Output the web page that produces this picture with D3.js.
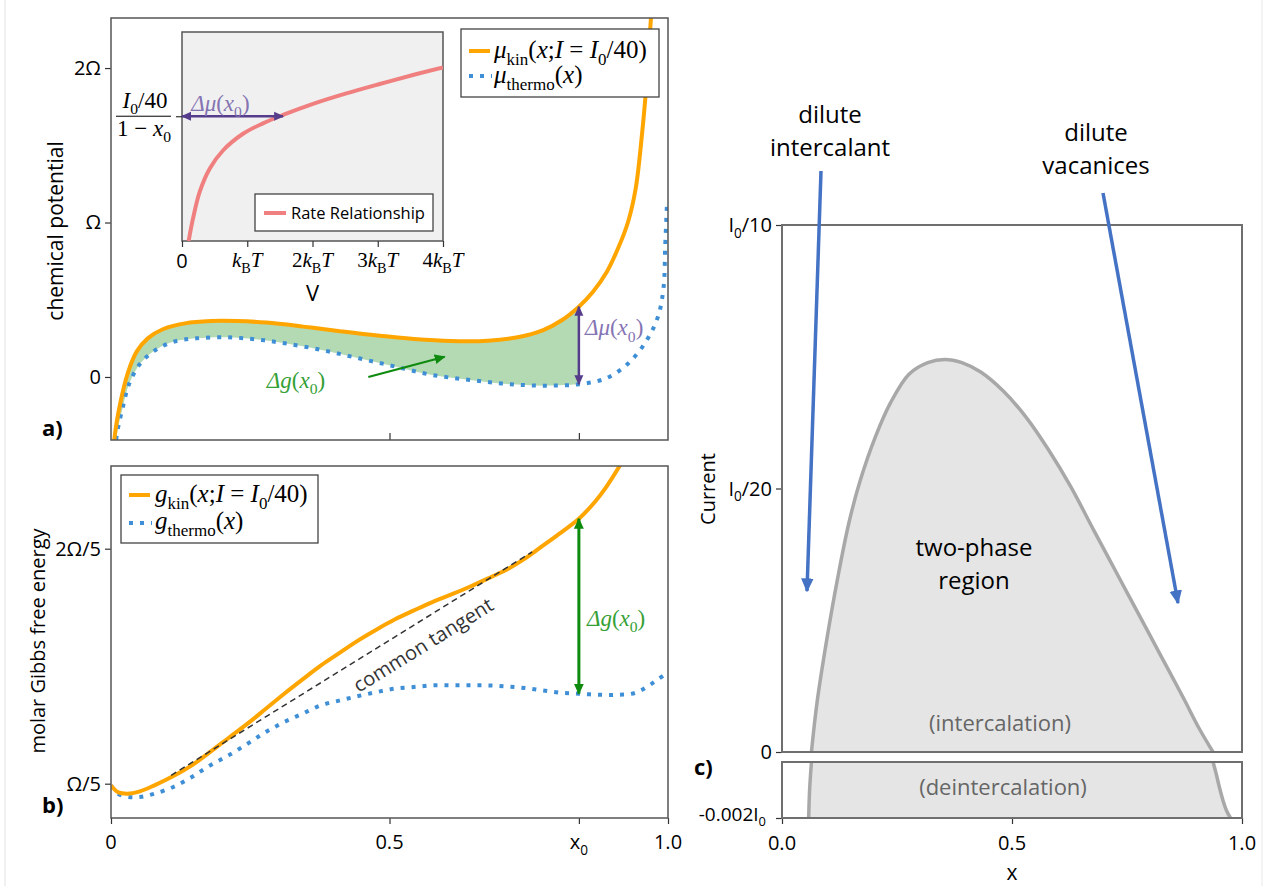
<!DOCTYPE html>
<html>
<head>
<meta charset="utf-8">
<script src="https://cdn.jsdelivr.net/npm/d3@7"></script>
<style>
  body { margin: 0; background: #fff; }
  text { font-family: "Open Sans", "Noto Sans", sans-serif; }
</style>
</head>
<body>
<svg id="fig" width="1265" height="886"></svg>
<script>
// ---- values ----
// panel a: chemical potential (in units of Omega)
var muKinX = [0.003, 0.0066, 0.0166, 0.030, 0.046, 0.066, 0.093, 0.133, 0.179, 0.226, 0.279, 0.345, 0.411, 0.478, 0.544, 0.610, 0.677, 0.730, 0.776, 0.810, 0.840, 0.865, 0.890, 0.910, 0.928, 0.942, 0.953, 0.961, 0.967, 0.972];
var muKin = [-0.62, -0.386, -0.17, 0.024, 0.164, 0.25, 0.309, 0.347, 0.362, 0.362, 0.352, 0.326, 0.296, 0.268, 0.246, 0.233, 0.235, 0.257, 0.304, 0.369, 0.455, 0.55, 0.68, 0.83, 1.0, 1.22, 1.56, 1.88, 2.20, 2.45];
var muThermoX = [0.006, 0.010, 0.020, 0.033, 0.053, 0.080, 0.113, 0.153, 0.206, 0.259, 0.312, 0.378, 0.445, 0.511, 0.577, 0.644, 0.710, 0.776, 0.840, 0.889, 0.929, 0.962, 0.982, 0.992, 0.995, 0.998];
var muThermo = [-0.62, -0.386, -0.214, -0.041, 0.089, 0.175, 0.229, 0.25, 0.257, 0.244, 0.218, 0.175, 0.121, 0.067, 0.013, -0.019, -0.045, -0.056, -0.047, -0.008, 0.089, 0.239, 0.39, 0.578, 0.85, 1.11];

// panel b: molar Gibbs free energy (in units of Omega)
var gKinX = [0, 0.012, 0.029, 0.052, 0.078, 0.112, 0.145, 0.178, 0.211, 0.245, 0.278, 0.311, 0.344, 0.377, 0.411, 0.444, 0.477, 0.510, 0.544, 0.577, 0.610, 0.643, 0.676, 0.710, 0.743, 0.776, 0.809, 0.840, 0.869, 0.889, 0.912, 0.930];
var gKin = [0.1986, 0.1929, 0.1915, 0.1935, 0.1986, 0.2065, 0.2156, 0.227, 0.2389, 0.2511, 0.2638, 0.2766, 0.2888, 0.3007, 0.3115, 0.322, 0.3313, 0.3399, 0.3475, 0.3546, 0.3609, 0.3674, 0.3745, 0.3821, 0.3915, 0.4028, 0.4142, 0.4255, 0.440, 0.4525, 0.4695, 0.485];
var gThermoX = [0, 0.012, 0.032, 0.052, 0.078, 0.112, 0.145, 0.178, 0.211, 0.245, 0.278, 0.311, 0.344, 0.377, 0.411, 0.444, 0.477, 0.510, 0.544, 0.577, 0.610, 0.643, 0.676, 0.710, 0.743, 0.776, 0.809, 0.840, 0.876, 0.909, 0.942, 0.975, 1.0];
var gThermo = [0.1986, 0.1915, 0.1887, 0.1887, 0.1915, 0.1972, 0.2057, 0.2156, 0.2241, 0.234, 0.244, 0.2525, 0.2596, 0.2667, 0.2709, 0.2746, 0.278, 0.2809, 0.2823, 0.2837, 0.2837, 0.2837, 0.2837, 0.2828, 0.2814, 0.2794, 0.2774, 0.2766, 0.2757, 0.2757, 0.2774, 0.2865, 0.295];
var tangentX = [0.108, 0.756];
var tangentG = [0.2071, 0.3972];

// inset: rate relationship (V in kT, current as fraction of inset height)
var rateV = [0.102, 0.169, 0.271, 0.424, 0.628, 0.935, 1.241, 1.548, 2.008, 2.519, 3.03, 3.54, 4.0];
var rateI = [0, 0.108, 0.235, 0.346, 0.433, 0.513, 0.563, 0.603, 0.656, 0.706, 0.751, 0.794, 0.830];
var rateArrowI = 0.597, rateArrowV = 1.55;

// panel c: two-phase boundary (current in units of I0)
var upperX = [0.064, 0.076, 0.0965, 0.121, 0.1455, 0.170, 0.203, 0.2355, 0.276, 0.317, 0.354, 0.391, 0.432, 0.481, 0.530, 0.579, 0.628, 0.677, 0.726, 0.775, 0.824, 0.873, 0.906, 0.937];
var upperI = [0, 0.0093, 0.0209, 0.0330, 0.0435, 0.0515, 0.0598, 0.0662, 0.0717, 0.0739, 0.0745, 0.0739, 0.0721, 0.0685, 0.0636, 0.0574, 0.0503, 0.0422, 0.0342, 0.0262, 0.0182, 0.0102, 0.0046, 0];
var lowerLeftX = [0.064, 0.060, 0.058];
var lowerLeftI = [0, -0.001, -0.002];
var lowerRightX = [0.937, 0.943, 0.951, 0.959, 0.967, 0.975];
var lowerRightI = [0, -0.00036, -0.00091, -0.00139, -0.00176, -0.002];

// ticks
var x0 = 0.84;
var muTicks = [0, 1, 2], muTickLabels = ["0", "Ω", "2Ω"];
var gTicks = [0.2, 0.4], gTickLabels = ["Ω/5", "2Ω/5"];
var xTicks = [0, 0.5, x0, 1], xTickLabels = [["0"], ["0.5"], ["x", "0"], ["1.0"]];
var vTicks = [0, 1, 2, 3, 4], vTickLabels = ["0", "", "2", "3", "4"];
var currentTicks = [0, 0.05, 0.1], currentTickLabels = [["0"], ["I", "0", "/20"], ["I", "0", "/10"]];
var cxTicks = [0, 0.5, 1], cxTickLabels = ["0.0", "0.5", "1.0"];

var orange = "#ffa500", blue = "#3f8fd6", purple = "#553d8c", purpleTxt = "#8574b3",
    green = "#0e8a0e", greenTxt = "#35a035", rateRed = "#f08080", arrowBlue = "#4472c4";
var serif = "'Liberation Serif','DejaVu Serif',serif";
var sans = "'Open Sans','Noto Sans',sans-serif";

var svg = d3.select("#fig");
svg.append("rect").attr("width", 1265).attr("height", 886).attr("fill", "#fff");
svg.append("line").attr("x1", 5).attr("x2", 5).attr("y1", 0).attr("y2", 886).attr("stroke", "#e2e2e2");
svg.append("line").attr("x1", 1262).attr("x2", 1262).attr("y1", 0).attr("y2", 886).attr("stroke", "#e8e8e8");

var defs = svg.append("defs");
function marker(id, color, size) {
  defs.append("marker").attr("id", id).attr("viewBox", "0 -5 10 10")
    .attr("refX", 9).attr("refY", 0).attr("markerUnits", "userSpaceOnUse")
    .attr("markerWidth", size).attr("markerHeight", size).attr("orient", "auto-start-reverse")
    .append("path").attr("d", "M0,-4.5L10,0L0,4.5Z").attr("fill", color);
}
marker("hPurple", purple, 10);
marker("hGreen", green, 11);
marker("hBlue", arrowBlue, 14);
function clip(id, x, y, w, h) {
  defs.append("clipPath").attr("id", id).append("rect").attr("x", x).attr("y", y).attr("width", w).attr("height", h);
}

// rich text: parts = [[text, flags]]; flags: i italic, s subscript
function rich(parent, x, y, parts, size, color, anchor, family) {
  var t = parent.append("text").attr("x", x).attr("y", y).attr("font-size", size)
    .attr("fill", color || "#000").attr("text-anchor", anchor || "start")
    .style("font-family", family || serif);
  var shift = 0;
  parts.forEach(function(p) {
    var f = p[1] || "";
    var s = t.append("tspan").text(p[0]);
    if (f.indexOf("i") >= 0) s.style("font-style", "italic");
    var want = f.indexOf("s") >= 0 ? size * 0.28 : 0;
    if (want !== shift) { s.attr("dy", want - shift); shift = want; }
    if (f.indexOf("s") >= 0) s.attr("font-size", size * 0.68);
  });
  return t;
}
// two-line centred label in one text element
function twoLines(x, y, lines, size, gap, color) {
  var t = svg.append("text").attr("x", x).attr("y", y).attr("text-anchor", "middle")
    .attr("font-size", size).attr("fill", color || "#000");
  lines.forEach(function(l, i) {
    t.append("tspan").attr("x", x).attr("dy", i ? gap : 0).text(l);
  });
}
function zip(a, b) { return a.map(function(d, i) { return [d, b[i]]; }); }
var dmu = [["Δ", "i"], ["μ", "i"], ["(", ""], ["x", "i"], ["0", "s"], [")", ""]];
var dg = [["Δ", "i"], ["g", "i"], ["(", ""], ["x", "i"], ["0", "s"], [")", ""]];

// ================= panel a =================
var xA = d3.scaleLinear().domain([0, 1]).range([111, 668]);
var yA = d3.scaleLinear().domain([-0.408, 2.324]).range([440, 18]);
clip("clipA", 111, 18, 557, 422);
var lineA = d3.line().x(function(d) { return xA(d[0]); }).y(function(d) { return yA(d[1]); })
  .curve(d3.curveCatmullRom.alpha(0.5));
var kinA = zip(muKinX, muKin), thermoA = zip(muThermoX, muThermo);
var gA = svg.append("g").attr("clip-path", "url(#clipA)");
var kinSeg = kinA.filter(function(d) { return d[0] <= x0 + 1e-9; });
var thermoSeg = thermoA.filter(function(d) { return d[0] <= x0 + 1e-9; }).reverse();
gA.append("path").attr("d", lineA(kinSeg) + lineA(thermoSeg).replace(/^M/, "L") + "Z")
  .attr("fill", "#b4dab4").attr("stroke", "none");
gA.append("path").attr("d", lineA(thermoA)).attr("fill", "none").attr("stroke", blue)
  .attr("stroke-width", 4).attr("stroke-dasharray", "4,7");
gA.append("path").attr("d", lineA(kinA)).attr("fill", "none").attr("stroke", orange).attr("stroke-width", 4);

// delta mu arrow at x0
svg.append("line").attr("x1", xA(x0)).attr("x2", xA(x0))
  .attr("y1", yA(muKin[muKinX.indexOf(x0)])).attr("y2", yA(muThermo[muThermoX.indexOf(x0)]))
  .attr("stroke", purple).attr("stroke-width", 2.5)
  .attr("marker-start", "url(#hPurple)").attr("marker-end", "url(#hPurple)");
rich(svg, xA(x0) + 6, yA(0.29) + 3, dmu, 23, purpleTxt);
// delta g arrow
svg.append("line").attr("x1", xA(0.462)).attr("y1", yA(0.0)).attr("x2", xA(0.599)).attr("y2", yA(0.131))
  .attr("stroke", green).attr("stroke-width", 2.2).attr("marker-end", "url(#hGreen)");
rich(svg, xA(0.332), yA(-0.07), dg, 23, greenTxt, "middle");

// axes a
svg.append("g").attr("transform", "translate(111,0)")
  .call(d3.axisLeft(yA).tickValues(muTicks).tickSize(6).tickPadding(4)
    .tickFormat(function(d, i) { return muTickLabels[i]; }));
svg.append("g").attr("transform", "translate(0,440)")
  .call(d3.axisBottom(xA).tickValues([0.5, x0]).tickSize(-7).tickFormat(""));
svg.append("rect").attr("x", 111).attr("y", 18).attr("width", 557).attr("height", 422)
  .attr("fill", "none").attr("stroke", "#555").attr("stroke-width", 1.5);

// legend a
svg.append("rect").attr("x", 461).attr("y", 29).attr("width", 198).attr("height", 68)
  .attr("fill", "#fff").attr("stroke", "#444").attr("stroke-width", 1.3);
svg.append("line").attr("x1", 469).attr("x2", 490).attr("y1", 51).attr("y2", 51).attr("stroke", orange).attr("stroke-width", 4);
svg.append("line").attr("x1", 469).attr("x2", 492).attr("y1", 76).attr("y2", 76).attr("stroke", blue)
  .attr("stroke-width", 4).attr("stroke-dasharray", "4,7");
rich(svg, 494, 58, [["μ", "i"], ["kin", "s"], ["(", ""], ["x", "i"], [";", ""], ["I", "i"], [" = ", ""], ["I", "i"], ["0", "s"], ["/40)", ""]], 25);
rich(svg, 494, 83, [["μ", "i"], ["thermo", "s"], ["(", ""], ["x", "i"], [")", ""]], 25);

// ================= inset =================
var xI = d3.scaleLinear().domain([0, 4]).range([182, 443]);
var yI = d3.scaleLinear().domain([0, 1]).range([241, 32]);
svg.append("rect").attr("x", 182).attr("y", 32).attr("width", 261).attr("height", 209)
  .attr("fill", "#f0f0f0").attr("stroke", "#555").attr("stroke-width", 1.5);
var lineI = d3.line().x(function(d) { return xI(d[0]); }).y(function(d) { return yI(d[1]); })
  .curve(d3.curveCatmullRom.alpha(0.5));
clip("clipI", 182, 32, 261, 209);
svg.append("g").attr("clip-path", "url(#clipI)").append("path").attr("d", lineI(zip(rateV, rateI)))
  .attr("fill", "none").attr("stroke", rateRed).attr("stroke-width", 4);
svg.append("line").attr("x1", xI(0)).attr("x2", xI(rateArrowV)).attr("y1", yI(rateArrowI)).attr("y2", yI(rateArrowI))
  .attr("stroke", purple).attr("stroke-width", 2.5)
  .attr("marker-start", "url(#hPurple)").attr("marker-end", "url(#hPurple)");
rich(svg, xI(0.14), 111, dmu, 23, purpleTxt);
svg.append("g").attr("transform", "translate(0,241)")
  .call(d3.axisBottom(xI).tickValues(vTicks).tickSize(6).tickFormat(""));
svg.append("g").attr("transform", "translate(182,0)")
  .call(d3.axisLeft(yI).tickValues([rateArrowI]).tickSize(6).tickFormat(""));
vTicks.forEach(function(v, i) {
  if (v === 0) {
    svg.append("text").attr("x", xI(v)).attr("y", 268).attr("text-anchor", "middle").attr("font-size", 20).text("0");
  } else {
    rich(svg, xI(v), 267, [[vTickLabels[i], ""], ["k", "i"], ["B", "s"], ["T", "i"]], 21, "#000", "middle");
  }
});
svg.append("text").attr("x", xI(2)).attr("y", 301).attr("text-anchor", "middle").attr("font-size", 22).text("V");
// y label as a fraction
rich(svg, 145, 108, [["I", "i"], ["0", "s"], ["/40", ""]], 23, "#000", "middle");
svg.append("line").attr("x1", 116).attr("x2", 171).attr("y1", yI(rateArrowI)).attr("y2", yI(rateArrowI)).attr("stroke", "#000").attr("stroke-width", 1);
rich(svg, 144, 136, [["1 − ", ""], ["x", "i"], ["0", "s"]], 23, "#000", "middle");
// inset legend
svg.append("rect").attr("x", 255).attr("y", 194).attr("width", 178).attr("height", 37)
  .attr("fill", "#fff").attr("stroke", "#444").attr("stroke-width", 1.3);
svg.append("line").attr("x1", 264).attr("x2", 286).attr("y1", 213).attr("y2", 213).attr("stroke", rateRed).attr("stroke-width", 4);
svg.append("text").attr("x", 291).attr("y", 219).attr("font-size", 16.5).text("Rate Relationship");

// ================= panel b =================
var xB = d3.scaleLinear().domain([0, 1]).range([111, 668]);
var yB = d3.scaleLinear().domain([0.1708, 0.4704]).range([818, 466]);
clip("clipB", 111, 466, 557, 352);
var lineB = d3.line().x(function(d) { return xB(d[0]); }).y(function(d) { return yB(d[1]); })
  .curve(d3.curveCatmullRom.alpha(0.5));
var gB = svg.append("g").attr("clip-path", "url(#clipB)");
gB.append("path").attr("d", lineB(zip(gThermoX, gThermo))).attr("fill", "none").attr("stroke", blue)
  .attr("stroke-width", 4).attr("stroke-dasharray", "4,7");
gB.append("path").attr("d", lineB(zip(gKinX, gKin))).attr("fill", "none").attr("stroke", orange).attr("stroke-width", 4);
gB.append("path").attr("d", d3.line()(zip(tangentX, tangentG).map(function(d) { return [xB(d[0]), yB(d[1])]; })))
  .attr("fill", "none").attr("stroke", "#333").attr("stroke-width", 1.5).attr("stroke-dasharray", "6,4");
var ang = Math.atan2(yB(tangentG[1]) - yB(tangentG[0]), xB(tangentX[1]) - xB(tangentX[0])) * 180 / Math.PI;
svg.append("text").attr("transform", "translate(" + (xB(0.56) + 4) + "," + (yB(0.3198) + 8) + ") rotate(" + ang + ")")
  .attr("text-anchor", "middle").attr("font-size", 20).attr("fill", "#333").text("common tangent");

svg.append("line").attr("x1", xB(x0)).attr("x2", xB(x0))
  .attr("y1", yB(gKin[gKinX.indexOf(x0)])).attr("y2", yB(gThermo[gThermoX.indexOf(x0)]))
  .attr("stroke", green).attr("stroke-width", 3)
  .attr("marker-start", "url(#hGreen)").attr("marker-end", "url(#hGreen)");
rich(svg, xB(x0) + 8, 626, dg, 23, greenTxt);

svg.append("g").attr("transform", "translate(111,0)")
  .call(d3.axisLeft(yB).tickValues(gTicks).tickSize(6).tickPadding(4)
    .tickFormat(function(d, i) { return gTickLabels[i]; }));
svg.append("g").attr("transform", "translate(0,818)")
  .call(d3.axisBottom(xB).tickValues(xTicks).tickSize(6).tickFormat(""));
xTicks.forEach(function(v, i) {
  var lab = xTickLabels[i];
  rich(svg, xB(v), 849, lab.length > 1 ? [[lab[0], ""], [lab[1], "s"]] : [[lab[0], ""]], 20, "#000", "middle", sans);
});
svg.append("rect").attr("x", 111).attr("y", 466).attr("width", 557).attr("height", 352)
  .attr("fill", "none").attr("stroke", "#555").attr("stroke-width", 1.5);

// legend b
svg.append("rect").attr("x", 121).attr("y", 475).attr("width", 197).attr("height", 68)
  .attr("fill", "#fff").attr("stroke", "#444").attr("stroke-width", 1.3);
svg.append("line").attr("x1", 129).attr("x2", 150).attr("y1", 495).attr("y2", 495).attr("stroke", orange).attr("stroke-width", 4);
svg.append("line").attr("x1", 129).attr("x2", 152).attr("y1", 523).attr("y2", 523).attr("stroke", blue)
  .attr("stroke-width", 4).attr("stroke-dasharray", "4,7");
rich(svg, 155, 502, [["g", "i"], ["kin", "s"], ["(", ""], ["x", "i"], [";", ""], ["I", "i"], [" = ", ""], ["I", "i"], ["0", "s"], ["/40)", ""]], 25);
rich(svg, 155, 529, [["g", "i"], ["thermo", "s"], ["(", ""], ["x", "i"], [")", ""]], 25);

// left labels
svg.append("text").attr("transform", "translate(63,231) rotate(-90)").attr("text-anchor", "middle")
  .attr("font-size", 21).text("chemical potential");
svg.append("text").attr("transform", "translate(45,641) rotate(-90)").attr("text-anchor", "middle")
  .attr("font-size", 20).text("molar Gibbs free energy");
svg.append("text").attr("x", 42).attr("y", 436).attr("font-size", 22).attr("font-weight", "bold").text("a)");
svg.append("text").attr("x", 42).attr("y", 813).attr("font-size", 22).attr("font-weight", "bold").text("b)");

// ================= panel c =================
var xC = d3.scaleLinear().domain([0, 1]).range([782, 1242]);
var yCu = d3.scaleLinear().domain([0, 0.1]).range([752, 225]);
var yCl = d3.scaleLinear().domain([-0.002, 0]).range([818, 762]);
clip("clipCU", 782, 225, 460, 527);
clip("clipCL", 782, 762, 460, 56);
var lineCu = d3.line().x(function(d) { return xC(d[0]); }).y(function(d) { return yCu(d[1]); })
  .curve(d3.curveCatmullRom.alpha(0.5));
var lineCl = d3.line().x(function(d) { return xC(d[0]); }).y(function(d) { return yCl(d[1]); })
  .curve(d3.curveCatmullRom.alpha(0.5));
var upperPts = zip(upperX, upperI);
var gCu = svg.append("g").attr("clip-path", "url(#clipCU)");
gCu.append("path").attr("d", lineCu(upperPts) + "Z").attr("fill", "#e5e5e5").attr("stroke", "none");
gCu.append("path").attr("d", lineCu(upperPts)).attr("fill", "none").attr("stroke", "#a8a8a8").attr("stroke-width", 3.5);
var leftPts = zip(lowerLeftX, lowerLeftI), rightPts = zip(lowerRightX, lowerRightI);
var gCl = svg.append("g").attr("clip-path", "url(#clipCL)");
gCl.append("path").attr("d", lineCl(leftPts) + lineCl(rightPts.slice().reverse()).replace(/^M/, "L") + "Z")
  .attr("fill", "#e5e5e5").attr("stroke", "none");
gCl.append("path").attr("d", lineCl(leftPts)).attr("fill", "none").attr("stroke", "#a8a8a8").attr("stroke-width", 3.5);
gCl.append("path").attr("d", lineCl(rightPts)).attr("fill", "none").attr("stroke", "#a8a8a8").attr("stroke-width", 3.5);

svg.append("g").attr("transform", "translate(782,0)")
  .call(d3.axisLeft(yCu).tickValues(currentTicks).tickSize(6).tickFormat(""));
svg.append("g").attr("transform", "translate(782,0)")
  .call(d3.axisLeft(yCl).tickValues([-0.002]).tickSize(6).tickFormat(""));
svg.append("g").attr("transform", "translate(0,818)")
  .call(d3.axisBottom(xC).tickValues(cxTicks).tickSize(6).tickFormat(""));
currentTicks.forEach(function(v, i) {
  var lab = currentTickLabels[i];
  var parts = lab.length > 1 ? [[lab[0], ""], [lab[1], "s"], [lab[2], ""]] : [[lab[0], ""]];
  rich(svg, 772, yCu(v) + 7, parts, 20, "#000", "end", sans);
});
rich(svg, 766, yCl(-0.002) + 3, [["-0.002I", ""], ["0", "s"]], 19, "#000", "end", sans);
cxTicks.forEach(function(v, i) {
  svg.append("text").attr("x", xC(v)).attr("y", 850).attr("text-anchor", "middle").attr("font-size", 20).text(cxTickLabels[i]);
});
svg.append("rect").attr("x", 782).attr("y", 225).attr("width", 460).attr("height", 527)
  .attr("fill", "none").attr("stroke", "#6f6f6f").attr("stroke-width", 2);
svg.append("rect").attr("x", 782).attr("y", 762).attr("width", 460).attr("height", 56)
  .attr("fill", "none").attr("stroke", "#6f6f6f").attr("stroke-width", 2);

svg.append("text").attr("x", xC(0.5)).attr("y", 880).attr("text-anchor", "middle").attr("font-size", 21).text("x");
svg.append("text").attr("transform", "translate(715,489) rotate(-90)").attr("text-anchor", "middle")
  .attr("font-size", 20).text("Current");
svg.append("text").attr("x", 694).attr("y", 775).attr("font-size", 22).attr("font-weight", "bold").text("c)");

twoLines(974, 556, ["two-phase", "region"], 24, 33);
svg.append("text").attr("x", 1000).attr("y", 731).attr("text-anchor", "middle").attr("font-size", 22).attr("fill", "#666").text("(intercalation)");
svg.append("text").attr("x", 1003).attr("y", 795).attr("text-anchor", "middle").attr("font-size", 22).attr("fill", "#666").text("(deintercalation)");

twoLines(830, 123, ["dilute", "intercalant"], 24, 33);
twoLines(1096, 141, ["dilute", "vacanices"], 24, 33);
svg.append("line").attr("x1", 821).attr("y1", 171).attr("x2", 807).attr("y2", 591)
  .attr("stroke", arrowBlue).attr("stroke-width", 3.5).attr("marker-end", "url(#hBlue)");
svg.append("line").attr("x1", 1103).attr("y1", 193).attr("x2", 1178).attr("y2", 603)
  .attr("stroke", arrowBlue).attr("stroke-width", 3.5).attr("marker-end", "url(#hBlue)");

// axis styling
svg.selectAll(".domain").remove();
svg.selectAll(".tick line").attr("stroke", "#333").attr("stroke-width", 1.2);
svg.selectAll(".tick text").attr("font-size", 20).attr("fill", "#000").style("font-family", sans);
</script>
</body>
</html>
